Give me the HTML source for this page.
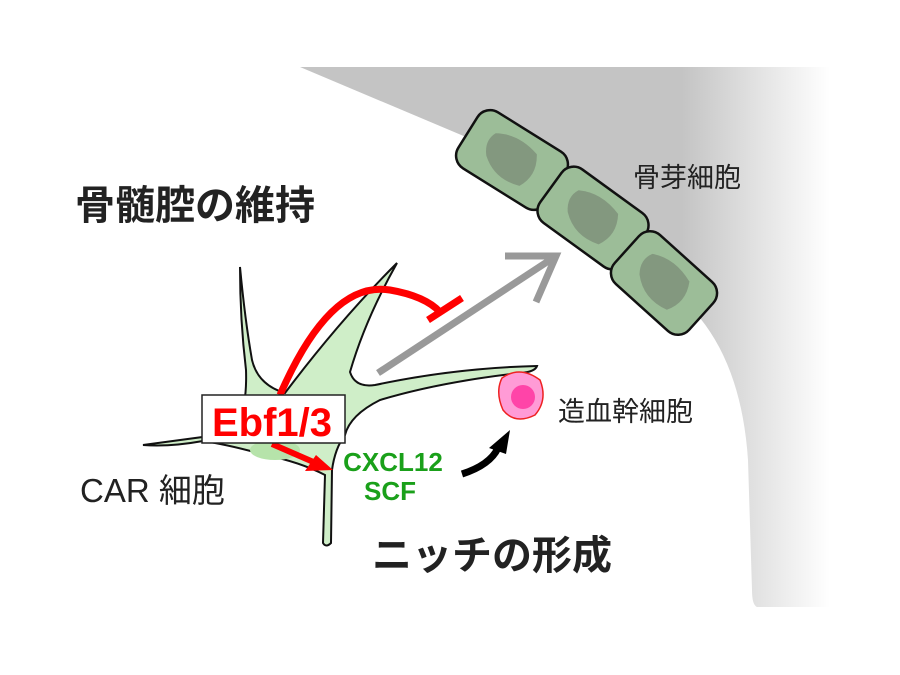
<!DOCTYPE html>
<html><head><meta charset="utf-8"><style>
body{margin:0;width:900px;height:675px;background:#fff;overflow:hidden}
svg{display:block}
text{font-family:"Liberation Sans","Noto Sans CJK JP",sans-serif}
</style></head><body>
<svg width="900" height="675" viewBox="0 0 900 675">
<defs>
<linearGradient id="g" x1="0" x2="1" y1="0" y2="0">
<stop offset="0" stop-color="#c4c4c4"/>
<stop offset="0.72" stop-color="#c4c4c4"/>
<stop offset="1" stop-color="#fff"/>
</linearGradient>
</defs>
<path d="M300,67 L830,67 L830,607 L757,607 Q752,605 752,590 L748,460 Q742,370 700,318 L466,137 Z" fill="url(#g)"/>
<g stroke="#111" stroke-width="2.5" fill="#9cbd98">
<g transform="translate(512,160) rotate(32)"><rect x="-52" y="-33" width="104" height="66" rx="15"/><path d="M-28,-14 Q-8,-26 18,-18 Q30,0 20,18 Q-5,26 -24,10 Q-34,-2 -28,-14Z" fill="#83987f" stroke="none"/></g>
<g transform="translate(593,218) rotate(36)"><rect x="-52" y="-33" width="104" height="66" rx="15"/><path d="M-28,-14 Q-8,-26 18,-18 Q30,0 20,18 Q-5,26 -24,10 Q-34,-2 -28,-14Z" fill="#83987f" stroke="none"/></g>
<g transform="translate(664,283) rotate(42)"><rect x="-50" y="-33" width="100" height="66" rx="15"/><path d="M-28,-14 Q-8,-26 18,-18 Q30,0 20,18 Q-5,26 -24,10 Q-34,-2 -28,-14Z" fill="#83987f" stroke="none"/></g>
</g>
<path d="M143,445 Q180,440 210,436 L240,420 Q247,400 246,370 Q240,320 240,267 Q245,320 252,360 Q258,385 285,393 Q340,320 397,263 Q365,320 350,372 Q355,388 375,385 Q455,368 537,366 Q535,372 520,373 Q440,382 380,400 Q350,415 345,435 Q335,448 332,470 L331,543 Q326,548 323,543 L325,475 Q300,462 265,455 Q230,445 203,441 Q170,447 143,445Z" fill="#cfeec8" stroke="#111" stroke-width="2"/>
<ellipse cx="275" cy="450" rx="25" ry="10" fill="#b6e3aa"/>
<line x1="378" y1="373" x2="553" y2="258" stroke="#999" stroke-width="7"/>
<polyline points="505,256 556,256 536,302" fill="none" stroke="#999" stroke-width="7"/>
<path d="M280,395 Q330,280 390,290 Q425,296 440,312" fill="none" stroke="#f00" stroke-width="7"/>
<line x1="428" y1="320" x2="462" y2="298" stroke="#f00" stroke-width="7"/>
<line x1="272" y1="444" x2="318" y2="464" stroke="#f00" stroke-width="6"/>
<polygon points="333,470 305,471 316,455" fill="#f00"/>
<rect x="202" y="395" width="143" height="48" fill="#fff" stroke="#222" stroke-width="1.5"/>
<text x="272" y="436" font-size="40" font-weight="bold" fill="#f00" text-anchor="middle">Ebf1/3</text>
<path d="M502,378 Q520,365 540,380 Q548,400 535,415 Q515,425 503,410 Q495,392 502,378Z" fill="#ff9bd6" stroke="#e22" stroke-width="1.5"/>
<circle cx="523" cy="397" r="12" fill="#ff44a8"/>
<path d="M462,474 Q490,465 498,448" fill="none" stroke="#000" stroke-width="7"/>
<polygon points="510,430 489,448 506,454" fill="#000"/>
<text x="393" y="471" font-size="26" font-weight="bold" fill="#1aa01a" text-anchor="middle">CXCL12</text>
<text x="390" y="500" font-size="26" font-weight="bold" fill="#1aa01a" text-anchor="middle">SCF</text>
<text x="75" y="219" font-size="40" font-weight="bold" fill="#222">骨髄腔の維持</text>
<text x="372" y="569" font-size="40" font-weight="bold" fill="#222">ニッチの形成</text>
<text x="633" y="187" font-size="27" fill="#222">骨芽細胞</text>
<text x="558" y="421" font-size="27" fill="#222">造血幹細胞</text>
<text x="80" y="502" font-size="33" fill="#222">CAR 細胞</text>
</svg>
</body></html>
